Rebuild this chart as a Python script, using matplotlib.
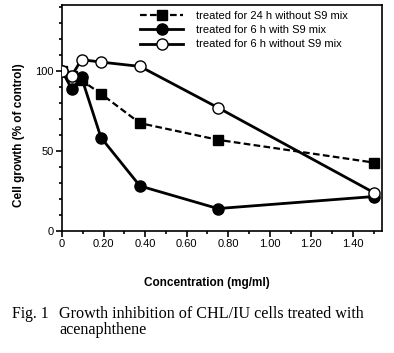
import numpy as np
import matplotlib
matplotlib.use('Agg')
import matplotlib.pyplot as plt
from matplotlib.ticker import MultipleLocator, FixedLocator

# Data
conc = [0, 0.047, 0.094, 0.1875, 0.375, 0.75, 1.5]
h24_noS9 = [100, 97, 94, 85.6, 67.3, 56.9, 42.7]
h6_S9 = [100, 88.5, 95.8, 58.3, 28.1, 14.0, 21.5]
h6_noS9 = [100, 97, 106.9, 105.4, 102.7, 77.0, 24.0]

labels = ['treated for 24 h without S9 mix',
          'treated for 6 h with S9 mix',
          'treated for 6 h without S9 mix']
xticks = [0, 0.2, 0.4, 0.6, 0.8, 1.0, 1.2, 1.4]
xticklabels = ['0', '0.20', '0.40', '0.60', '0.80', '1.00', '1.20', '1.40']

plt.rcParams['font.family'] = ['Liberation Sans', 'DejaVu Sans']

fig = plt.figure(figsize=(3.94, 3.53), dpi=100)
W, H = 394, 353
ax = fig.add_axes([62 / W, 1 - 231 / H, (382 - 62) / W, (231 - 5) / H])

ax.plot(conc, h24_noS9, color='black', lw=1.6, dashes=(3, 1.5),
        marker='s', ms=6.5, mfc='black', mec='black', label=labels[0], zorder=2)
ax.plot(conc, h6_S9, color='black', lw=2, marker='o', ms=8,
        mfc='black', mec='black', label=labels[1], zorder=3)
ax.plot(conc, h6_noS9, color='black', lw=2, marker='o', ms=8,
        mfc='white', mec='black', mew=1, label=labels[2], zorder=4)

ax.set_xlim(0, 1.54)
ax.set_ylim(0, 141)
ax.set_xticks(xticks)
ax.set_xticklabels(xticklabels)
ax.xaxis.set_minor_locator(FixedLocator([0.1, 0.3, 0.5, 0.7, 0.9, 1.1, 1.3, 1.5]))
ax.set_yticks([0, 50, 100])
ax.yaxis.set_minor_locator(MultipleLocator(10))
ax.tick_params(which='major', direction='out', length=4, width=1.2,
               labelsize=8, pad=2)
ax.tick_params(which='minor', direction='out', length=2.5, width=1.2)
for s in ax.spines.values():
    s.set_linewidth(1.2)

leg = ax.legend(loc='upper left', frameon=False, fontsize=8,
                handlelength=3.9, handletextpad=1.1, labelspacing=0.38,
                borderpad=0, borderaxespad=0,
                bbox_to_anchor=((140 - 62) / 320, (231 - 11) / 226))

fig.text(19 / W, 1 - 135 / H, 'Cell growth (% of control)', rotation=90,
         ha='center', va='center', fontsize=8.5, fontweight='bold')
fig.text(207 / W, 1 - 283 / H, 'Concentration (mg/ml)',
         ha='center', va='center', fontsize=8.5, fontweight='bold')

fig.text(12 / W, 1 - 314 / H, 'Fig. 1', ha='left', va='center',
         fontsize=11.3, family='Liberation Serif')
fig.text(59 / W, 1 - 314 / H, 'Growth inhibition of CHL/IU cells treated with',
         ha='left', va='center', fontsize=11.6, family='Liberation Serif')
fig.text(59 / W, 1 - 330 / H, 'acenaphthene', ha='left', va='center',
         fontsize=11.6, family='Liberation Serif')

fig.savefig('out.png', dpi=100)
